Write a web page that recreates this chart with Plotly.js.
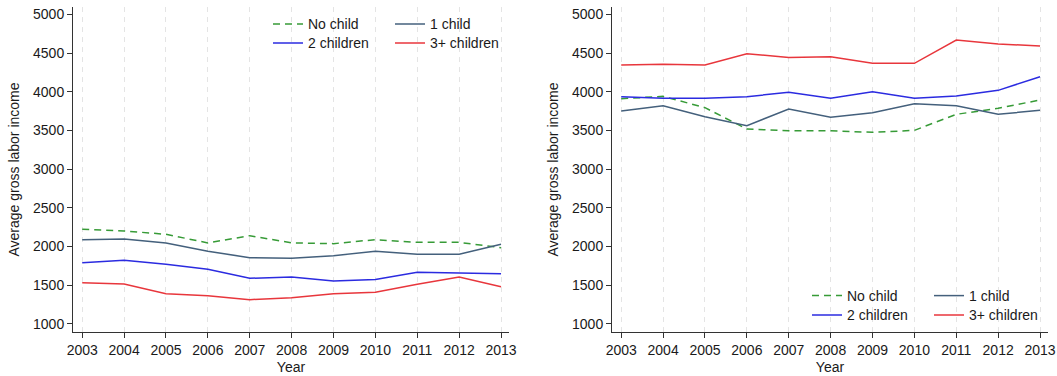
<!DOCTYPE html>
<html>
<head>
<meta charset="utf-8">
<script src="https://cdn.plot.ly/plotly-3.0.1.min.js"></script>
<style>
  html, body { margin: 0; padding: 0; background: #fff; }
  #chart { width: 1057px; height: 376px; }
</style>
</head>
<body>
<div id="chart"></div>
<script>
// Survey years
const years = [2003, 2004, 2005, 2006, 2007, 2008, 2009, 2010, 2011, 2012, 2013];

// Left panel: average gross labor income by number of children
const leftNoChild   = [2223, 2202, 2159, 2047, 2141, 2047, 2038, 2089, 2055, 2055, 1986];
const leftOneChild  = [2089, 2098, 2047, 1939, 1857, 1849, 1883, 1939, 1900, 1900, 2030];
const leftTwoKids   = [1792, 1823, 1771, 1707, 1590, 1607, 1556, 1573, 1668, 1659, 1650];
const leftThreeKids = [1534, 1517, 1391, 1366, 1314, 1340, 1391, 1410, 1513, 1607, 1482];

// Right panel: average gross labor income by number of children
const rightNoChild   = [3911, 3941, 3795, 3519, 3497, 3497, 3476, 3502, 3709, 3787, 3894];
const rightOneChild  = [3752, 3821, 3678, 3562, 3778, 3670, 3730, 3846, 3821, 3709, 3761];
const rightTwoKids   = [3937, 3916, 3916, 3937, 3993, 3916, 4001, 3916, 3946, 4019, 4195];
const rightThreeKids = [4346, 4355, 4346, 4492, 4445, 4454, 4368, 4368, 4669, 4618, 4592];

const seriesNames = ['No child', '1 child', '2 children', '3+ children'];
const yTicks = [1000, 1500, 2000, 2500, 3000, 3500, 4000, 4500, 5000];

const W = 1057, H = 376;
const colors = ['#379b37', '#44607c', '#2b2be0', '#e8363c'];
const dashes = ['7px,5px', 'solid', 'solid', 'solid'];

function makeTraces(values, xa, ya, legA, legB) {
  return values.map((v, i) => ({
    type: 'scatter',
    mode: 'lines',
    x: years,
    y: v,
    name: seriesNames[i],
    xaxis: xa,
    yaxis: ya,
    legend: i < 2 ? legA : legB,
    line: { color: colors[i], width: 1.5, dash: dashes[i] },
    hoverinfo: 'x+y+name'
  }));
}

const traces = [
  ...makeTraces([leftNoChild, leftOneChild, leftTwoKids, leftThreeKids], 'x', 'y', 'legend', 'legend2'),
  ...makeTraces([rightNoChild, rightOneChild, rightTwoKids, rightThreeKids], 'x2', 'y2', 'legend3', 'legend4')
];

const font = { family: '"Liberation Sans", Arial, sans-serif', size: 14, color: '#1a1a1a' };
const yDom = [1 - 332 / H, 1 - 7 / H];

function xAxis(x0, x1, anchor) {
  return {
    domain: [x0 / W, x1 / W],
    anchor: anchor,
    range: [2002.78, 2013.19],
    tickvals: years,
    ticktext: years.map(String),
    ticks: 'outside', ticklen: 5, tickwidth: 1, tickcolor: '#333',
    showline: true, linecolor: '#333', linewidth: 1,
    showgrid: true, gridcolor: '#e4e4e4', gridwidth: 1, griddash: '5px,5px',
    zeroline: false,
    automargin: false,
    tickfont: font,
    title: { text: 'Year', font: font, standoff: 5 }
  };
}

function yAxis(anchor) {
  return {
    domain: yDom,
    anchor: anchor,
    range: [896, 5096],
    tickvals: yTicks,
    ticks: 'outside', ticklen: 5, tickwidth: 1, tickcolor: '#333',
    showline: true, linecolor: '#333', linewidth: 1,
    showgrid: false, zeroline: false,
    automargin: false,
    tickfont: font,
    title: { text: 'Average gross labor income', font: font, standoff: 10 }
  };
}

function legendRow(xPx, yPx) {
  return {
    x: xPx / W, y: 1 - yPx / H,
    xanchor: 'left', yanchor: 'middle',
    orientation: 'h',
    entrywidth: 77, entrywidthmode: 'pixels',
    bgcolor: 'rgba(0,0,0,0)', borderwidth: 0,
    font: font,
    tracegroupgap: 0
  };
}

const layout = {
  width: W, height: H,
  margin: { l: 0, r: 0, t: 0, b: 0 },
  paper_bgcolor: '#ffffff',
  plot_bgcolor: '#ffffff',
  font: font,
  showlegend: true,
  xaxis: xAxis(73, 509, 'y'),
  yaxis: yAxis('x'),
  xaxis2: xAxis(612, 1048, 'y2'),
  yaxis2: yAxis('x2'),
  legend: legendRow(268, 24.3),
  legend2: legendRow(268, 43.3),
  legend3: legendRow(807, 296),
  legend4: legendRow(807, 315.3)
};

Plotly.newPlot('chart', traces, layout, { displayModeBar: false, staticPlot: true });
</script>
</body>
</html>
